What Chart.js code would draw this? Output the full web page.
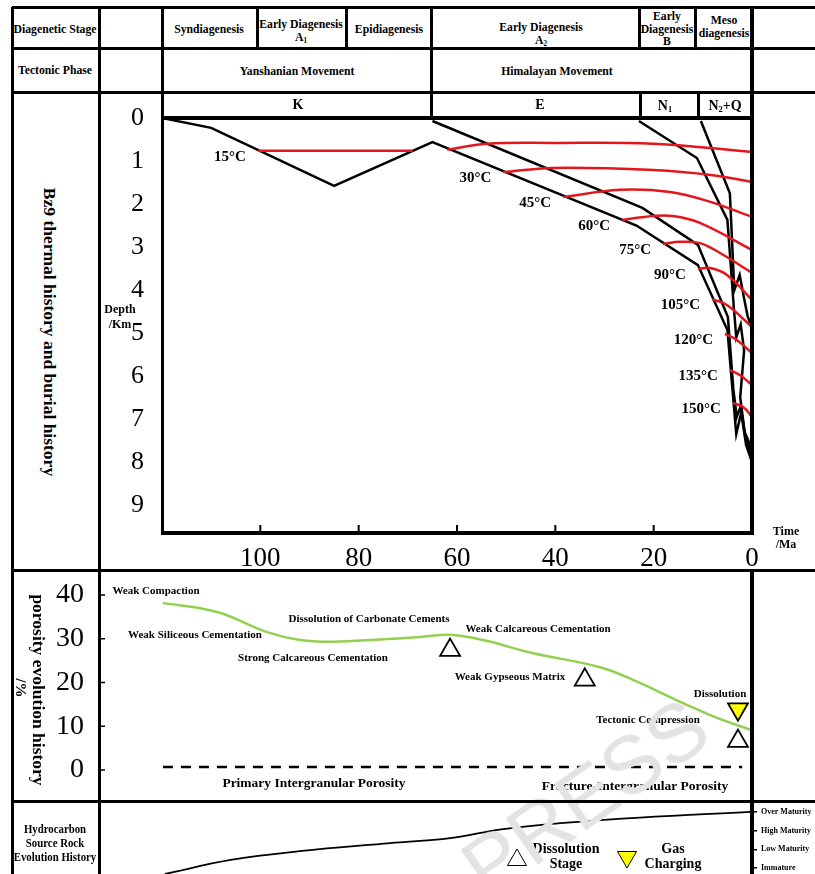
<!DOCTYPE html>
<html>
<head>
<meta charset="utf-8">
<script src="https://cdn.jsdelivr.net/npm/chart.js@4.4.1/dist/chart.umd.min.js"></script>
<style>
  body { margin: 0; background: #fff; }
  #page { position: relative; width: 815px; height: 874px; overflow: hidden; background: #fff; font-family: "Liberation Serif", serif; }
  canvas { position: absolute; z-index: 1; }
  .ln { position: absolute; background: #000; z-index: 4; }
  .tx { position: absolute; transform: translate(-50%, -50%); white-space: nowrap; font-weight: bold; text-align: center; color: #000; z-index: 2; line-height: 12.5px; font-size: 11px; }
  .tx sub { font-size: 60%; line-height: 0; vertical-align: -2px; }
  .cond { transform: translate(-50%, -50%) scaleX(.9); font-size: 13px; }
  .rot { transform: translate(-50%, -50%) rotate(90deg); }
  #mark { position: absolute; z-index: 3; left: 585px; top: 797px; transform: translate(-50%, -50%) rotate(-35deg);
          font: 82px "Liberation Sans", sans-serif; color: #e3e3e3; }
</style>
</head>
<body>
<div id="page">
  <canvas id="burial" width="715" height="465" style="left:100px; top:105px"></canvas>
  <canvas id="porosity" width="803" height="231" style="left:12px; top:570px"></canvas>
  <canvas id="maturity" width="803" height="73" style="left:12px; top:801px"></canvas>
  <div id="mark">PRESS</div>
</div>
<script>
Chart.defaults.font.family = '"Liberation Serif", serif';
Chart.defaults.color = '#000';

// axis ticks
const timeTicks = [100, 80, 60, 40, 20, 0];
const depthTicks = [0, 1, 2, 3, 4, 5, 6, 7, 8, 9];
const porosityTicks = [0, 10, 20, 30, 40];
const maturityLevels = ['Immature', 'Low Maturity', 'High Maturity', 'Over Maturity'];

// burial curves, [age Ma, depth km]
const burialK = [[120, 0], [110, 0.23], [85, 1.58], [65, 0.56], [23.5, 2.5], [11, 3.42], [5, 4.93], [3.2, 7.35], [2.2, 6.85], [1.2, 7.6], [0, 8.0]];
const burialE = [[65, 0.07], [22.3, 2.09], [11, 2.95], [4.9, 4.63], [3.8, 6.3], [3.1, 6.95], [2.3, 6.7], [1.3, 7.45], [0, 7.85]];
const burialN1 = [[23, 0.07], [11.2, 0.93], [5, 2.37], [3.7, 4.4], [3.2, 5.1], [2.3, 4.8], [1.6, 5.4], [2.4, 6.5], [1.5, 7.3], [0, 7.7]];
const burialN2Q = [[10.4, 0.07], [4.5, 1.75], [3.6, 4.0], [2.5, 3.65], [1.6, 4.2], [0.9, 4.6], [0, 4.9]];

// isotherms, [age Ma, depth km]
const isoTemps = ['15°C', '30°C', '45°C', '60°C', '75°C', '90°C', '105°C', '120°C', '135°C', '150°C'];
const isoCurves = [
  [[100.5, 0.76], [69, 0.76]],
  [[50.6, 1.26], [40.5, 1.16], [20.1, 1.21], [8, 1.33], [0, 1.49]],
  [[38.4, 1.84], [26.8, 1.67], [16.7, 1.72], [8.5, 1.95], [0, 2.3]],
  [[26.4, 2.37], [20.1, 2.28], [16.1, 2.28], [10.6, 2.44], [0, 3.07]],
  [[18.1, 2.93], [14.6, 2.88], [10.6, 2.91], [6.5, 3.14], [0, 3.6]],
  [[11, 3.51], [8.5, 3.49], [5.1, 3.65], [0, 4.23]],
  [[8.1, 4.21], [5.1, 4.35], [0, 4.86]],
  [[5.5, 5.02], [3.1, 5.16], [0, 5.47]],
  [[4.5, 5.86], [2.4, 5.98], [0, 6.21]],
  [[3.9, 6.63], [1.8, 6.72], [0, 6.95]]
];
// 15°C continues east of the late Cretaceous high
const iso15Tail = [[62, 0.74], [54, 0.6], [40.5, 0.58], [20.1, 0.6], [0, 0.79]];

// porosity evolution, age Ma / porosity %
const porosityAge = [119.8, 108.8, 98.6, 91.9, 85.2, 75, 67.5, 61.4, 54.7, 44.5, 30.9, 24.2, 14, 7.1, 0.3];
const porosityValue = [38.2, 36.1, 31.5, 29.7, 29.3, 29.9, 30.4, 30.9, 29.7, 26.7, 23.5, 20.6, 15.3, 11.9, 9.2];
const primaryAge = [119.8, 2];
const primaryValue = [0.7, 0.7];
const dissolutionAge = [61.4, 34, 2.85];
const dissolutionValue = [27.4, 20.6, 6.6];
const gasAge = [2.85];
const gasValue = [13.9];

// source rock maturity, age Ma / level (0 immature .. 3 over mature)
const maturityAge = [119.4, 106, 92, 73.6, 61.4, 51, 39, 22.8, 0.4];
const maturityValue = [-0.32, 0.43, 0.9, 1.33, 1.6, 2.07, 2.4, 2.7, 3.0];

const pts = arr => arr.map(([x, y]) => ({ x, y }));
const zip = (xs, ys) => xs.map((x, i) => ({ x, y: ys[i] }));
const RED = '#e3161c';

// keep the plot area exactly where the layout padding puts it
const noScalePadding = s => { s.paddingTop = 0; s.paddingBottom = 0; s.paddingLeft = 0; s.paddingRight = 0; };

const page = document.getElementById('page');

function line(x, y, w, h) {
  const d = document.createElement('div');
  d.className = 'ln';
  d.style.cssText = `left:${x}px;top:${y}px;width:${w}px;height:${h}px`;
  page.appendChild(d);
}
function text(html, cx, cy, extra, cls) {
  const d = document.createElement('div');
  d.className = 'tx' + (cls ? ' ' + cls : '');
  d.innerHTML = html;
  d.style.left = cx + 'px';
  d.style.top = cy + 'px';
  if (extra) Object.assign(d.style, extra);
  page.appendChild(d);
  return d;
}

// table frame
[[12, 815, 7, 3], [12, 815, 48, 3], [12, 815, 92, 3], [162, 752, 118, 4],
 [162, 754, 533, 4], [12, 815, 570, 3], [12, 815, 801, 3]]
  .forEach(([x1, x2, y, w]) => line(x1, y - w / 2, x2 - x1, w));
[[12, 7, 874, 3], [99, 7, 874, 3], [162, 7, 535, 3], [257, 7, 48, 3], [346, 7, 48, 3],
 [431, 7, 118, 3], [639, 7, 48, 3], [640, 92, 118, 3], [695, 7, 48, 3], [698, 92, 118, 3],
 [752, 7, 535, 4], [752, 570, 874, 4]]
  .forEach(([x, y1, y2, w]) => line(x - w / 2, y1, w, y2 - y1));

// header rows
text('Diagenetic Stage', 55, 29, null, 'cond');
text('Syndiagenesis', 209, 29, null, 'cond');
text('Early Diagenesis<br>A<sub>1</sub>', 301, 30, null, 'cond');
text('Epidiagenesis', 389, 29, null, 'cond');
text('Early Diagenesis<br>A<sub>2</sub>', 541, 33, null, 'cond');
text('Early<br>Diagenesis<br>B', 667, 29, null, 'cond');
text('Meso<br>diagenesis', 724, 26, null, 'cond');
text('Tectonic Phase', 55, 70, null, 'cond');
text('Yanshanian Movement', 297, 71, null, 'cond');
text('Himalayan Movement', 557, 71, null, 'cond');
text('K', 298, 105, { fontSize: '14px' });
text('E', 540, 105, { fontSize: '14px' });
text('N<sub>1</sub>', 665, 106, { fontSize: '14px' });
text('N<sub>2</sub>+Q', 725, 106, { fontSize: '14px' });

// side titles
text('Bz9 thermal history and burial history', 50, 332, { fontSize: '17.5px' }, 'rot');
text('Depth<br>/Km', 120, 317, { fontSize: '12px', lineHeight: '15px' });
text('Time<br>/Ma', 786, 538, { fontSize: '12px', lineHeight: '13px' });
text('porosity evolution history', 39, 690, { fontSize: '17.5px' }, 'rot');
text('/%', 21, 688, { fontSize: '15px' }, 'rot');
text('Hydrocarbon<br>Source Rock<br>Evolution History', 55, 843, { lineHeight: '14px', fontSize: '12px' }, 'cond');

// porosity annotations
text('Weak Compaction', 156, 590);
text('Weak Siliceous Cementation', 195, 634);
text('Dissolution of Carbonate Cements', 369, 618);
text('Weak Calcareous Cementation', 538, 628);
text('Strong Calcareous Cementation', 313, 657);
text('Weak Gypseous Matrix', 510, 676);
text('Dissolution', 720, 693);
text('Tectonic Compression', 648, 719);
text('Primary Intergranular Porosity', 314, 783, { fontSize: '13.5px' });
text('Fracture-Intergranular Porosity', 635, 786, { fontSize: '13.5px' });

// ---------- burial / thermal history ----------
const burialOverlay = {
  id: 'burialOverlay',
  afterDatasetsDraw(chart) {
    const { ctx, scales: { x, y } } = chart;
    ctx.save();
    ctx.strokeStyle = '#000';
    ctx.lineWidth = 2;
    timeTicks.forEach(t => {
      const px = x.getPixelForValue(t);
      ctx.beginPath();
      ctx.moveTo(px, y.bottom);
      ctx.lineTo(px, y.bottom - 8);
      ctx.stroke();
    });
    ctx.font = 'bold 15px "Liberation Serif"';
    ctx.fillStyle = '#000';
    ctx.textAlign = 'right';
    ctx.textBaseline = 'middle';
    isoCurves.forEach((c, i) => {
      const px = x.getPixelForValue(c[0][0]);
      const py = y.getPixelForValue(c[0][1]);
      ctx.fillText(isoTemps[i], px - 12, py + 6);
    });
    ctx.restore();
  }
};

const blackLine = data => ({ data: pts(data), borderColor: '#000', borderWidth: 2.5, tension: 0, pointRadius: 0 });
const redLine = data => ({ data: pts(data), borderColor: RED, borderWidth: 2.5, tension: 0.4, pointRadius: 0 });

new Chart(document.getElementById('burial'), {
  type: 'line',
  data: {
    datasets: [
      ...isoCurves.map(redLine),
      redLine(iso15Tail),
      blackLine(burialK), blackLine(burialE), blackLine(burialN1), blackLine(burialN2Q)
    ]
  },
  options: {
    responsive: false, animation: false, devicePixelRatio: 1,
    layout: { autoPadding: false, padding: { left: 0, right: 63, top: 13, bottom: 0 } },
    plugins: { legend: { display: false }, tooltip: { enabled: false } },
    scales: {
      x: {
        type: 'linear', reverse: true, min: 0, max: 120,
        afterBuildTicks: s => { s.ticks = timeTicks.map(v => ({ value: v })); },
        afterFit: s => { s.height = 37; noScalePadding(s); },
        grid: { display: false }, border: { display: false },
        ticks: { font: { size: 27 }, padding: 2, maxRotation: 0 }
      },
      y: {
        type: 'linear', reverse: true, min: 0, max: 9.65,
        afterBuildTicks: s => { s.ticks = depthTicks.map(v => ({ value: v })); },
        afterFit: s => { s.width = 62; noScalePadding(s); },
        grid: { display: false }, border: { display: false },
        ticks: { font: { size: 26 }, padding: 10 }
      }
    }
  },
  plugins: [burialOverlay]
});

// ---------- porosity evolution ----------
const porosityTickMarks = {
  id: 'porosityTickMarks',
  afterDraw(chart) {
    const { ctx, chartArea, scales: { y } } = chart;
    ctx.save();
    ctx.strokeStyle = '#000';
    ctx.lineWidth = 1.5;
    porosityTicks.forEach(v => {
      const py = y.getPixelForValue(v);
      ctx.beginPath();
      ctx.moveTo(chartArea.left, py);
      ctx.lineTo(chartArea.left + 6, py);
      ctx.stroke();
    });
    ctx.restore();
  }
};

new Chart(document.getElementById('porosity'), {
  type: 'line',
  data: {
    datasets: [
      { data: zip(porosityAge, porosityValue), borderColor: '#92d050', borderWidth: 2.5, tension: 0.4, pointRadius: 0 },
      { data: zip(primaryAge, primaryValue), borderColor: '#000', borderWidth: 2.5, borderDash: [10, 8], pointRadius: 0 },
      { data: zip(dissolutionAge, dissolutionValue), showLine: false, pointStyle: 'triangle', pointRadius: 11.5,
        pointBackgroundColor: '#fff', pointBorderColor: '#000', pointBorderWidth: 1.8 },
      { data: zip(gasAge, gasValue), showLine: false, pointStyle: 'triangle', pointRadius: 11.5, pointRotation: 180,
        pointBackgroundColor: '#ffff00', pointBorderColor: '#000', pointBorderWidth: 1.8 }
    ]
  },
  options: {
    responsive: false, animation: false, devicePixelRatio: 1,
    layout: { autoPadding: false, padding: { left: 0, right: 63, top: 5, bottom: 6 } },
    plugins: { legend: { display: false }, tooltip: { enabled: false } },
    scales: {
      x: { type: 'linear', reverse: true, min: 0, max: 132.8, display: false },
      y: {
        type: 'linear', min: -5.71, max: 44.57,
        afterBuildTicks: s => { s.ticks = porosityTicks.map(v => ({ value: v })); },
        afterFit: s => { s.width = 87; noScalePadding(s); },
        grid: { display: false }, border: { display: false },
        ticks: { font: { size: 28 }, padding: 7 }
      }
    }
  },
  plugins: [porosityTickMarks]
});

// ---------- source rock maturity ----------
const maturityKey = {
  id: 'maturityKey',
  afterDraw(chart) {
    const { ctx } = chart;
    ctx.save();
    ctx.strokeStyle = '#000';
    ctx.fillStyle = '#fff';
    Chart.helpers.drawPoint(ctx, { pointStyle: 'triangle', radius: 11, rotation: 0, borderWidth: 1.8 }, 505, 59);
    ctx.fillStyle = '#ffff00';
    Chart.helpers.drawPoint(ctx, { pointStyle: 'triangle', radius: 11, rotation: 180, borderWidth: 1.8 }, 615, 56);
    ctx.fillStyle = '#000';
    ctx.font = 'bold 14px "Liberation Serif"';
    ctx.textAlign = 'center';
    ctx.textBaseline = 'middle';
    ctx.fillText('Dissolution', 554, 48);
    ctx.fillText('Stage', 554, 63);
    ctx.fillText('Gas', 661, 48);
    ctx.fillText('Charging', 661, 63);
    ctx.restore();
  }
};

new Chart(document.getElementById('maturity'), {
  type: 'line',
  data: {
    datasets: [
      { data: zip(maturityAge, maturityValue), borderColor: '#000', borderWidth: 1.8, tension: 0.4, pointRadius: 0 }
    ]
  },
  options: {
    responsive: false, animation: false, devicePixelRatio: 1,
    layout: { autoPadding: false, padding: { left: 87, right: 0, top: 2, bottom: 0 } },
    plugins: { legend: { display: false }, tooltip: { enabled: false } },
    scales: {
      x: { type: 'linear', reverse: true, min: 0, max: 132.8, display: false },
      y: {
        type: 'linear', position: 'right', min: -0.32, max: 3.48,
        afterBuildTicks: s => { s.ticks = maturityLevels.map((_, i) => ({ value: i })); },
        afterFit: s => { s.width = 63; noScalePadding(s); },
        grid: { drawOnChartArea: false, drawTicks: true, tickLength: 5, color: '#000', lineWidth: 1.5 },
        border: { display: false },
        ticks: { font: { size: 8, weight: 'bold' }, padding: 4, callback: v => maturityLevels[v] }
      }
    }
  },
  plugins: [maturityKey]
});
</script>
</body>
</html>
